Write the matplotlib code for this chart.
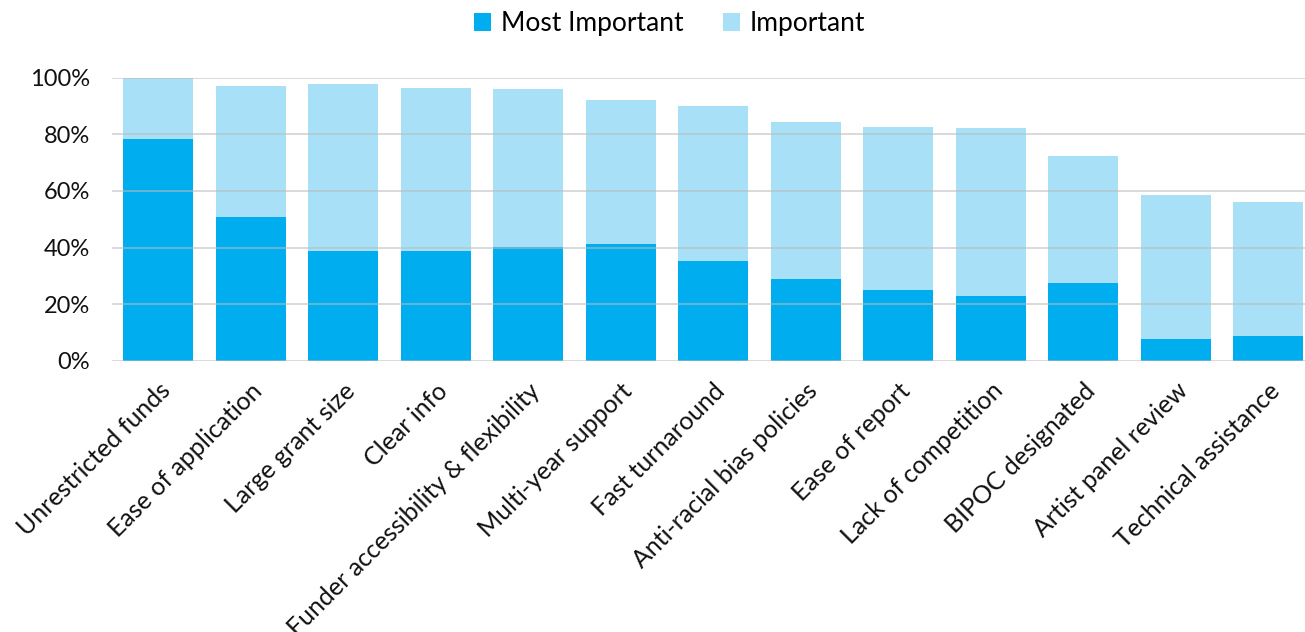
import matplotlib.pyplot as plt
import numpy as np
from matplotlib.ticker import PercentFormatter

plt.rcParams['font.family'] = ['Lato', 'DejaVu Sans']

categories = ['Unrestricted funds', 'Ease of application', 'Large grant size', 'Clear info',
              'Funder accessibility & flexibility', 'Multi-year support', 'Fast turnaround',
              'Anti-racial bias policies', 'Ease of report', 'Lack of competition',
              'BIPOC designated', 'Artist panel review', 'Technical assistance']
most_important = [78.4, 50.9, 38.9, 38.9, 40.3, 41.3, 35.3, 29.0, 25.1, 23.0, 27.6, 7.8, 8.8]
total = [100.0, 97.2, 97.9, 96.5, 96.1, 92.2, 90.1, 84.5, 82.7, 82.3, 72.4, 58.7, 56.2]
important = [t - m for t, m in zip(total, most_important)]

dark = '#00ADEE'
light = '#A8E1F7'

fig = plt.figure(figsize=(13.05, 6.32), dpi=100)
ax = fig.add_axes([0.086, 0.429, 0.914, 0.448])

x = np.arange(len(categories))
ax.bar(x, most_important, width=0.757, color=dark, label='Most Important', zorder=2)
ax.bar(x, important, width=0.757, bottom=most_important, color=light, label='Important', zorder=2)

ax.set_xlim(-0.497, 12.4)
ax.set_ylim(0, 100)
ax.set_yticks(range(0, 101, 20))
ax.yaxis.set_major_formatter(PercentFormatter(decimals=0))
ax.grid(axis='y', color='#BBBBBB', linewidth=1.3, alpha=0.6, zorder=3)
ax.set_axisbelow(False)
for s in ax.spines.values():
    s.set_visible(False)
ax.tick_params(axis='both', length=0, colors='#111111')
ax.tick_params(axis='y', pad=16, labelsize=17)

ax.set_xticks(x)
ax.set_xticklabels(categories, rotation=45, ha='right', rotation_mode='anchor', fontsize=18)
ax.tick_params(axis='x', pad=13)

fig.legend(loc='upper center', bbox_to_anchor=(0.513, 1.02), ncol=2, frameon=False,
           fontsize=19, handlelength=0.65, handleheight=0.65, handletextpad=0.35,
           columnspacing=1.5)

fig.savefig('out.png', dpi=100)
